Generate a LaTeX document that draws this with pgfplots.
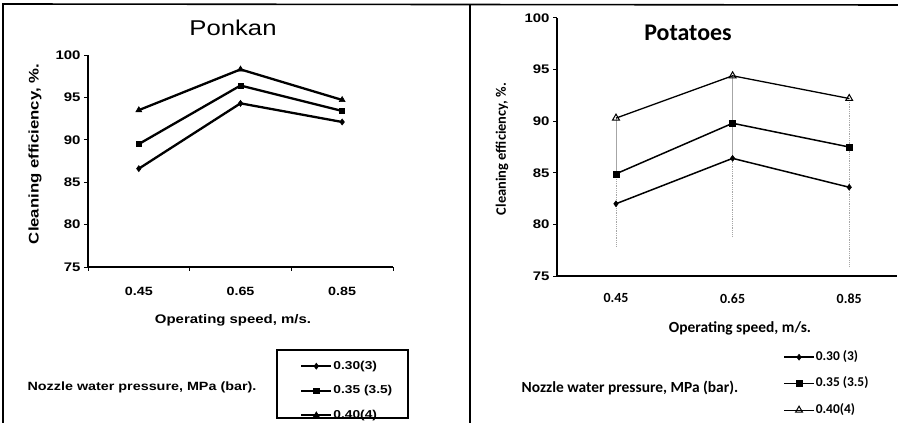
\documentclass[border=0pt]{standalone}
\usepackage{fontspec}
\setmainfont{Liberation Sans}[FakeStretch=1.2]
\newfontfamily\calfont{Carlito}
\usepackage{pgfplots}
\pgfplotsset{compat=1.18}

\pgfplotsset{
  panel/.style={
    scale only axis, anchor=south west,
    ymin=75, ymax=100, ytick={75,80,...,100},
    yticklabels={75,80,85,90,95,100},
    xtick={0,1,2}, xticklabels={0.45,0.65,0.85},
    axis x line*=bottom, axis y line*=left,
    tick align=outside,
    legend cell align=left,
    legend style={draw=none, fill=none, inner sep=0pt, row sep=12.5bp, column sep=0bp,
      nodes={inner sep=1bp, text height=8bp, text depth=2bp}},
  },
}

\begin{document}
\begin{tikzpicture}[x=1bp,y=1bp]
\useasboundingbox (0,0) rectangle (898bp,423bp);

% panel frames
\draw[line width=1.6bp] (3bp,0bp) -- (3bp,419bp) -- (898bp,418bp);
\draw[line width=1.6bp] (470bp,0bp) -- (470bp,418bp);

% ---------------- Ponkan ----------------
\begin{axis}[panel,
  at={(88bp,156bp)}, width=305bp, height=212bp,
  xmin=-0.5, xmax=2.5,
  major x tick style={draw=none},
  minor xtick={-0.5,0.5,1.5,2.5},
  minor tick length=4bp, major tick length=4bp,
  axis line style={line width=1.3bp},
  every tick/.style={black, line width=1bp},
  yticklabel style={font=\fontsize{12.5}{15}\selectfont\bfseries},
  xticklabel style={font=\fontsize{12}{15}\selectfont\bfseries, yshift=-13bp},
  legend style={at={(0.695,-0.4387)}, anchor=north west,
    font=\fontsize{11.5}{13}\selectfont\bfseries},
  legend image code/.code={\draw[mark repeat=2,mark phase=2,#1]
    plot coordinates {(0bp,0bp)(15bp,0bp)(30bp,0bp)};},
]
\addplot[black, line width=2.3bp, mark=diamond*, mark size=3bp, mark options={solid, line width=0.6bp}]
  coordinates {(0,86.6) (1,94.3) (2,92.1)};
\addplot[black, line width=2.3bp, mark=square*, mark size=2.6bp, mark options={solid, line width=0.6bp}]
  coordinates {(0,89.5) (1,96.4) (2,93.4)};
\addplot[black, line width=2.3bp, mark=triangle*, mark size=3.4bp, mark options={solid, line width=0.6bp}]
  coordinates {(0,93.5) (1,98.3) (2,94.7)};
\legend{0.30(3), 0.35 (3.5), 0.40(4)}
\end{axis}

\node[font=\fontsize{21.5}{26}\selectfont] at (233bp,395bp) {Ponkan};
\node[rotate=90, font=\fontsize{14}{16}\selectfont\bfseries] at (35bp,269bp) {Cleaning efficiency, \%.};
\node[font=\fontsize{12.5}{15}\selectfont\bfseries] at (233bp,103bp) {Operating speed, m/s.};
\node[font=\fontsize{12}{15}\selectfont\bfseries] at (142bp,36bp) {Nozzle water pressure, MPa (bar).};
\draw[line width=1.3bp] (277bp,73bp) rectangle (408bp,5bp);

% ---------------- Potatoes ----------------
\begin{axis}[panel,
  at={(557bp,147bp)}, width=340bp, height=258bp,
  xmin=-0.506, xmax=2.41,
  major x tick style={draw=none}, major tick length=4bp,
  axis line style={line width=1.2bp},
  every tick/.style={black, line width=1bp},
  yticklabel style={font=\fontsize{12.5}{15}\selectfont\bfseries},
  xticklabel style={font=\calfont\fontsize{14}{16}\selectfont\bfseries, yshift=-10bp},
  legend style={at={(0.665,-0.2907)}, anchor=north west, row sep=14.5bp,
    font=\calfont\fontsize{13.5}{15}\selectfont\bfseries},
  legend image code/.code={\draw[mark repeat=2,mark phase=2,#1]
    plot coordinates {(0bp,0bp)(15bp,0bp)(30bp,0bp)};},
]
% high-low lines
\addplot[gray!70, line width=0.8bp, forget plot] coordinates {(0,90.3) (0,84.9)};
\addplot[gray!70, line width=0.8bp, densely dotted, forget plot] coordinates {(0,84.9) (0,77.8)};
\addplot[gray!70, line width=0.8bp, forget plot] coordinates {(1,94.4) (1,86.4)};
\addplot[gray!70, line width=0.8bp, densely dotted, forget plot] coordinates {(1,86.4) (1,78.8)};
\addplot[gray!70, line width=0.8bp, densely dotted, forget plot] coordinates {(2,92.2) (2,75.9)};

\addplot[black, line width=1.5bp, mark=diamond*, mark size=3bp, mark options={solid, line width=0.5bp}]
  coordinates {(0,82.0) (1,86.4) (2,83.6)};
\addplot[black, line width=1.5bp, mark=square*, mark size=3bp, mark options={solid, line width=0.5bp}]
  coordinates {(0,84.9) (1,89.8) (2,87.5)};
\addplot[black, line width=1.3bp, mark=triangle, mark size=4bp, mark options={solid, line width=1bp, fill=white}]
  coordinates {(0,90.3) (1,94.4) (2,92.2)};
\legend{0.30 (3), 0.35 (3.5), 0.40(4)}
\end{axis}

\node[font=\calfont\fontsize{24}{28}\selectfont\bfseries] at (688bp,390bp) {Potatoes};
\node[rotate=90, font=\calfont\fontsize{14.5}{17}\selectfont\bfseries] at (502bp,274bp) {Cleaning efficiency, \%.};
\node[font=\calfont\fontsize{15.5}{18}\selectfont\bfseries] at (740bp,95bp) {Operating speed, m/s.};
\node[font=\calfont\fontsize{15.5}{18}\selectfont\bfseries] at (630bp,35bp) {Nozzle water pressure, MPa (bar).};

\end{tikzpicture}
\end{document}
